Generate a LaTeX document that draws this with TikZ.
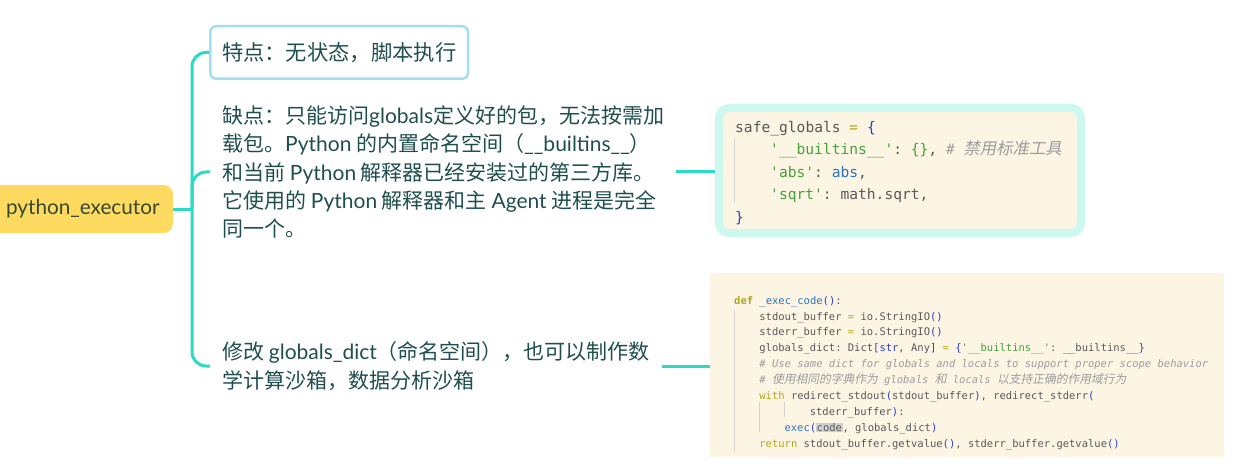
\documentclass[tikz,border=0pt]{standalone}
\usepackage{fontspec}
\setmainfont{Noto Sans CJK SC}
\setmonofont{DejaVu Sans Mono}
\newfontfamily\lat{Lato}
\newfontfamily\cjkit{Noto Sans CJK SC}[FakeSlant=0.2,Scale=1.12]
\usetikzlibrary{positioning,calc}

\definecolor{branchc}{HTML}{2BDBC6}
\definecolor{rootc}{HTML}{FFDA60}
\definecolor{roott}{HTML}{34492F}
\definecolor{featc}{HTML}{A3DDF3}
\definecolor{textc}{HTML}{1F4E4E}
\definecolor{aqua}{HTML}{CCF8F0}
\definecolor{cream}{HTML}{FDF5E4}
\definecolor{cgray}{HTML}{595959}
\definecolor{cyel}{HTML}{B3A41C}
\definecolor{cblue}{HTML}{2A3FD0}
\definecolor{cval}{HTML}{2F72B8}
\definecolor{cgreen}{HTML}{46A03C}
\definecolor{ccom}{HTML}{9C9C9C}
\definecolor{guide}{HTML}{D6D0CC}

\newcommand\en[1]{{\lat #1}}
\newcommand\ind{\hspace*{2.4em}}
\newcommand\cg[1]{\textcolor{cgray}{#1}}
\newcommand\cy[1]{\textcolor{cyel}{#1}}
\newcommand\cb[1]{\textcolor{cblue}{#1}}
\newcommand\cv[1]{\textcolor{cval}{#1}}
\newcommand\cs[1]{\textcolor{cgreen}{#1}}
\newcommand\cc[1]{\textcolor{ccom}{\itshape #1}}

\begin{document}
\begin{tikzpicture}[x=1pt,y=-1pt,
  branch/.style={draw=branchc,line width=3pt},
  rootbox/.style={fill=rootc,rounded corners=9pt,minimum height=48pt,minimum width=190pt,
    text=roott,font=\lat\fontsize{20.7}{24}\selectfont},
  featbox/.style={draw=featc,line width=2.5pt,rounded corners=6pt,minimum height=52.5pt,
    inner xsep=11.75pt,text=textc,font=\fontsize{21.3}{26}\selectfont},
  plain/.style={inner xsep=12pt,align=left,text=textc,font=\fontsize{21}{28.4}\selectfont},
  codebox/.style={fill=cream,draw=aqua,line width=8pt,rounded corners=10pt,
    minimum width=362pt,minimum height=125pt},
  shotbox/.style={fill=cream,minimum width=514pt,minimum height=184pt,inner sep=0pt},
  code/.style={inner sep=0pt,align=left,font=\ttfamily}]
\useasboundingbox (0,0) rectangle (1251,476);

\node[rootbox,anchor=east] (root) at (173,209) {\hspace*{10pt}python\_executor};
\node[featbox,anchor=west] (feat) at (209,52.5) {特点：无状态，脚本执行};
\node[plain,anchor=west] (cons) at (210,172) {缺点：只能访问\en{globals}定义好的包，无法按需加\\
载包。\en{Python} 的内置命名空间（\en{\_\_builtins\_\_}）\\
和当前 \en{Python} 解释器已经安装过的第三方库。\\
它使用的 \en{Python} 解释器和主 \en{Agent} 进程是完全\\
同一个。};
\node[plain,anchor=west] (sandbox) at (210,366) {修改 \en{globals\_dict}（命名空间），也可以制作数\\
学计算沙箱，数据分析沙箱};

\node[codebox,anchor=west] (safe) at (715,170.5) {};
\node[code,anchor=north west,font=\ttfamily\fontsize{14.6}{22.5}\selectfont] (safetxt)
  at ([xshift=20pt,yshift=-17pt]safe.north west) {\cg{safe\_globals} \cy{=} \cb{\{}\\
\ind\cs{'\_\_builtins\_\_'}\cg{:} \cs{\{\}}\cg{,} \cc{\# {\cjkit 禁用标准工具}}\\
\ind\cs{'abs'}\cg{:} \cv{abs}\cg{,}\\
\ind\cs{'sqrt'}\cg{: math.sqrt,}\\
\cb{\}}};
\draw[guide,line width=0.8pt] (734,138) -- (734,203);

\node[shotbox,anchor=north west] (exec) at (710,273) {};
\node[code,anchor=north west,font=\ttfamily\fontsize{10.5}{15.9}\selectfont] (exectxt)
  at ([xshift=24pt,yshift=-23pt]exec.north west) {\cy{\bfseries def} \cv{\_exec\_code}\cb{()}\cg{:}\\
\ind\cg{stdout\_buffer} \cy{=} \cg{io.StringIO}\cb{()}\\
\ind\cg{stderr\_buffer} \cy{=} \cg{io.StringIO}\cb{()}\\
\ind\cg{globals\_dict: Dict}\cb{[str}\cg{, Any}\cb{]} \cy{=} \cb{\{}\cs{'\_\_builtins\_\_'}\cg{: \_\_builtins\_\_}\cb{\}}\\
\ind\cc{\# Use same dict for globals and locals to support proper scope behavior}\\
\ind\cc{\# {\cjkit 使用相同的字典作为} globals {\cjkit 和} locals {\cjkit 以支持正确的作用域行为}}\\
\ind\cy{with} \cg{redirect\_stdout}\cb{(}\cg{stdout\_buffer}\cb{)}\cg{, redirect\_stderr}\cb{(}\\
\ind\ind\ind\cg{stderr\_buffer}\cb{)}\cg{:}\\
\ind\ind\cv{exec}\cb{(}{\setlength\fboxsep{0.5pt}\colorbox{black!18}{\cg{code}}}\cg{, globals\_dict}\cb{)}\\
\ind\cy{return} \cg{stdout\_buffer.getvalue}\cb{()}\cg{, stderr\_buffer.getvalue}\cb{()}};
\draw[guide,line width=0.8pt] (734,310) -- (734,451);
\draw[guide,line width=0.8pt] (759,402) -- (759,432);
\draw[guide,line width=0.8pt] (784,402) -- (784,417);

\coordinate (spine) at (192,209);
\draw[branch] (root.east) -- (spine);
\draw[branch,rounded corners=14pt] (spine) |- (feat.west);
\draw[branch,rounded corners=14pt] (spine) |- (cons.west);
\draw[branch,rounded corners=14pt] (spine) |- (sandbox.west);
\draw[branch] (cons.east) -- (cons.east -| safe.west);
\draw[branch] (sandbox.east) -- (sandbox.east -| exec.west);
\end{tikzpicture}
\end{document}
